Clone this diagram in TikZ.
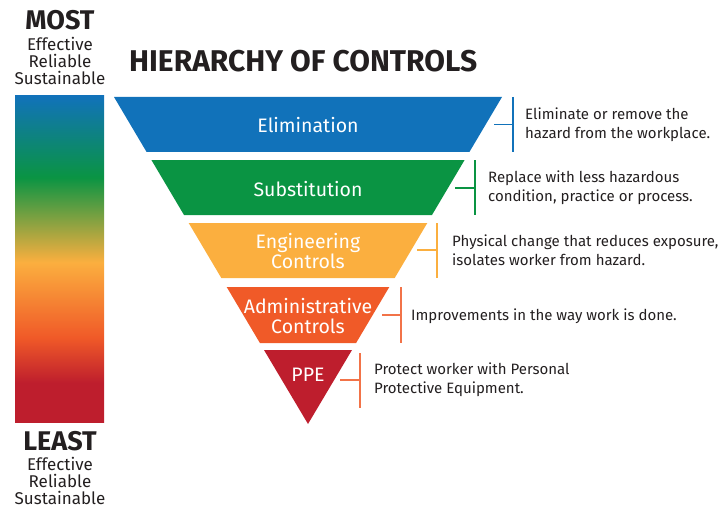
\documentclass[tikz,border=0pt]{standalone}
\usepackage{fontspec}
\setmainfont{Fira Sans}
\usetikzlibrary{positioning}

\definecolor{elimblue}{HTML}{1172BA}
\definecolor{subgreen}{HTML}{0A9443}
\definecolor{engyellow}{HTML}{FBAF3F}
\definecolor{adminorange}{HTML}{F05A28}
\definecolor{ppered}{HTML}{BE1E2D}
\definecolor{inkgrey}{HTML}{231F20}

\pgfdeclareverticalshading{hocbar}{100bp}{color(0bp)=(ppered); color(31bp)=(ppered);
  color(38bp)=(adminorange); color(49.5bp)=(engyellow); color(62.5bp)=(subgreen);
  color(75bp)=(elimblue); color(100bp)=(elimblue)}

\tikzset{
  level/.style={text=white, font=\fontsize{19.5}{20}\selectfont, align=center, inner sep=0pt},
  desc/.style={text=inkgrey, font=\fontsize{15}{19}\selectfont, align=left, inner sep=0pt},
  rank/.style={text=inkgrey, font=\fontsize{27}{30}\selectfont\bfseries, inner sep=0pt},
  rankword/.style={text=inkgrey, font=\fontsize{17}{17}\selectfont, align=center, inner sep=0pt},
  bracket/.style={line width=1.2pt},
}

\begin{document}
\begin{tikzpicture}[x=1pt,y=-1pt]
  \useasboundingbox (0,0) rectangle (720,508);

  % left bar
  \shade[shading=hocbar] (15,96) rectangle (104,422);
  \node[rank] (most) at (60,20) {MOST};
  \node[rankword] (mostw) at (60,61) {Effective\\Reliable\\Sustainable};
  \node[rank] (least) at (60,441) {LEAST};
  \node[rankword] (leastw) at (60,480.5) {Effective\\Reliable\\Sustainable};

  \node[rank, anchor=west, font=\fontsize{30}{32}\selectfont\bfseries] (title) at (129,61) {HIERARCHY OF CONTROLS};

  % the five levels
  \fill[elimblue] (114,97) -- (502,97) -- (469.4,152) -- (146.6,152) -- cycle;
  \fill[subgreen] (151.4,160) -- (464.6,160) -- (432,215) -- (184,215) -- cycle;
  \fill[engyellow] (188.7,223) -- (427.3,223) -- (394.7,278) -- (221.3,278) -- cycle;
  \fill[adminorange] (226.7,287) -- (389.3,287) -- (356.1,343) -- (259.9,343) -- cycle;
  \fill[ppered] (264,350) -- (352,350) -- (308,424) -- cycle;

  \node[level] (elim) at (308,125) {Elimination};
  \node[level] (subst) at (308,189) {Substitution};
  \node[level] (eng) at (308,251) {Engineering\\Controls};
  \node[level] (admin) at (308,316) {Administrative\\Controls};
  \node[level] (ppe) at (308,375) {PPE};

  % brackets
  \coordinate (e1) at (513,97);  \coordinate (e2) at (513,152); \coordinate (e3) at (494,124.5); \coordinate (e4) at (513,124.5);
  \coordinate (s1) at (475,160); \coordinate (s2) at (475,215); \coordinate (s3) at (455,188);   \coordinate (s4) at (475,188);
  \coordinate (g1) at (437,223); \coordinate (g2) at (437,278); \coordinate (g3) at (417,250);   \coordinate (g4) at (437,250);
  \coordinate (a1) at (401,287); \coordinate (a2) at (401,343); \coordinate (a3) at (382,315);   \coordinate (a4) at (401,315);
  \coordinate (p1) at (360,353); \coordinate (p2) at (360,408); \coordinate (p3) at (340,380);   \coordinate (p4) at (360,380);
  \begin{scope}[bracket]
    \draw[elimblue] (e1) -- (e2) (e3) -- (e4);
    \draw[subgreen] (s1) -- (s2) (s3) -- (s4);
    \draw[engyellow] (g1) -- (g2) (g3) -- (g4);
    \draw[adminorange!85] (a1) -- (a2) (a3) -- (a4);
    \draw[adminorange!85] (p1) -- (p2) (p3) -- (p4);
  \end{scope}

  \node[desc, right=12pt of e4, anchor=west] (elimd) {Eliminate or remove the\\hazard from the workplace.};
  \node[desc, right=13pt of s4, anchor=west] (substd) {Replace with less hazardous\\condition, practice or process.};
  \node[desc, right=15pt of g4, anchor=west] (engd) {Physical change that reduces exposure,\\isolates worker from hazard.};
  \node[desc, right=10pt of a4, anchor=west, yshift=-1pt] (admind) {Improvements in the way work is done.};
  \node[desc, right=14pt of p4, anchor=west] (pped) {Protect worker with Personal\\Protective Equipment.};
\end{tikzpicture}
\end{document}
